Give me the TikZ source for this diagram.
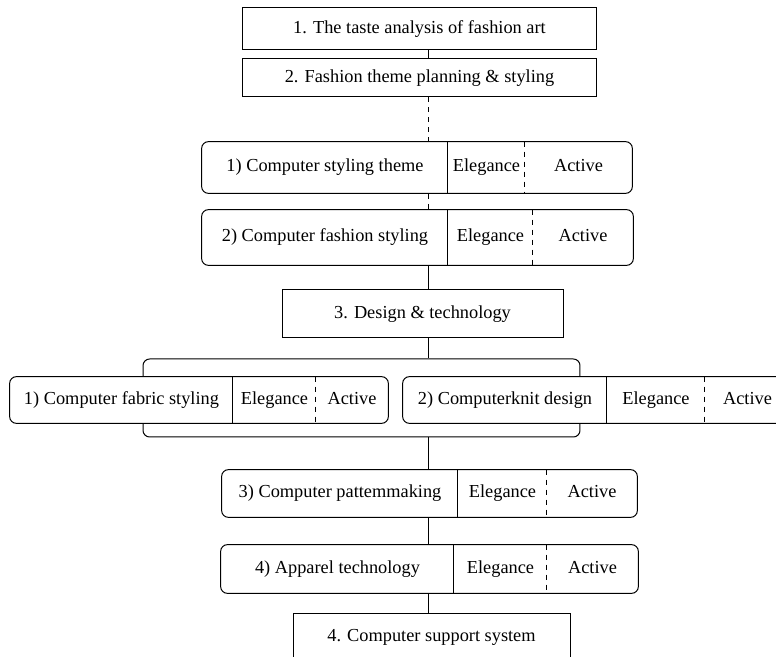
\documentclass[tikz,border=0pt]{standalone}
\usepackage{fontspec}
\setmainfont{Liberation Serif}
\usetikzlibrary{positioning, fit, calc}

\begin{document}
\begin{tikzpicture}[
      x=0.6pt, y=-0.6pt,
      every node/.style={font=\fontsize{11}{13}\selectfont, text height=7.6pt, text depth=2.4pt},
      stage/.style={draw, line width=0.6pt, inner sep=0pt, fill=white},
      seg/.style={inner sep=0pt, fill=white},
      rowbox/.style={draw, line width=0.6pt, rounded corners=4pt, inner sep=0pt},
      grpframe/.style={draw, line width=0.6pt, rounded corners=4pt, inner sep=0pt},
      link/.style={line width=0.6pt},
      divider/.style={line width=0.6pt},
    ]
    \useasboundingbox (0,0) rectangle (776,657);
    \clip (0,0) rectangle (776,657);
    \coordinate (spine) at (428,0);

    \node[stage, minimum width=213pt, minimum height=25.2pt] (t1) at (419.5,29)
      {1. The taste analysis of fashion art};
    \node[stage, minimum width=213pt, minimum height=22.8pt] (t2) at (419.5,78)
      {2. Fashion theme planning \& styling};

    \node[seg, minimum width=147.6pt, minimum height=30.6pt] (tA) at (325,167.5) {1) Computer styling theme};
    \node[seg, minimum width=46.2pt, minimum height=30.6pt]  (eA) at (486.5,167.5) {Elegance};
    \node[seg, minimum width=64.2pt, minimum height=30.6pt]  (aA) at (578.5,167.5) {Active};
    \node[rowbox, fit=(tA)(aA)] (rowA) {};

    \node[seg, minimum width=147.6pt, minimum height=33pt] (tB) at (325,237.5) {2) Computer fashion styling};
    \node[seg, minimum width=51pt, minimum height=33pt]    (eB) at (490.5,237.5) {Elegance};
    \node[seg, minimum width=60pt, minimum height=33pt]    (aB) at (583,237.5) {Active};
    \node[rowbox, fit=(tB)(aB)] (rowB) {};

    \node[stage, minimum width=168.6pt, minimum height=28.8pt] (t3) at (422.5,314)
      {3. Design \& technology};

    \node[grpframe, minimum width=262.2pt, minimum height=46.8pt] (grp) at (361.5,398) {};

    \node[seg, minimum width=133.8pt, minimum height=27.6pt] (tC) at (121.5,400) {1) Computer fabric styling};
    \node[seg, minimum width=49.8pt, minimum height=27.6pt]  (eC) at (274.5,400) {Elegance};
    \node[seg, minimum width=43.2pt, minimum height=27.6pt]  (aC) at (352,400) {Active};
    \node[rowbox, fit=(tC)(aC)] (rowC) {};

    \node[seg, minimum width=122.4pt, minimum height=27.6pt] (tD) at (505,400) {2) Computerknit design};
    \node[seg, minimum width=58.8pt, minimum height=27.6pt]  (eD) at (656,400) {Elegance};
    \node[seg, minimum width=51pt, minimum height=27.6pt]    (aD) at (747.5,400) {Active};
    \node[rowbox, fit=(tD)(aD)] (rowD) {};

    \node[seg, minimum width=141.6pt, minimum height=28.2pt] (tE) at (340,493.5) {3) Computer pattemmaking};
    \node[seg, minimum width=53.4pt, minimum height=28.2pt]  (eE) at (502.5,493.5) {Elegance};
    \node[seg, minimum width=54pt, minimum height=28.2pt]    (aE) at (592,493.5) {Active};
    \node[rowbox, fit=(tE)(aE)] (rowE) {};

    \node[seg, minimum width=139.8pt, minimum height=28.8pt] (tF) at (337.5,569) {4) Apparel technology};
    \node[seg, minimum width=55.8pt, minimum height=28.8pt]  (eF) at (500.5,569) {Elegance};
    \node[seg, minimum width=54.6pt, minimum height=28.8pt]  (aF) at (592.5,569) {Active};
    \node[rowbox, fit=(tF)(aF)] (rowF) {};

    \node[stage, minimum width=166.2pt, minimum height=28.8pt] (t4) at (431.5,637)
      {4. Computer support system};

    \foreach \r in {A,B,C,D,E,F} {
      \draw[divider] (e\r.north west) -- (e\r.south west);
      \draw[divider, dashed] (a\r.north west) -- (a\r.south west);
    }

    \draw[link] (t1.south -| spine) -- (t2.north -| spine);
    \draw[link, dashed] (t2.south -| spine) -- (rowA.north -| spine);
    \draw[link, dashed] (rowA.south -| spine) -- (rowB.north -| spine);
    \draw[link] (rowB.south -| spine) -- (t3.north -| spine);
    \draw[link] (t3.south -| spine) -- (grp.north -| spine);
    \draw[link] (grp.south -| spine) -- (rowE.north -| spine);
    \draw[link] (rowE.south -| spine) -- (rowF.north -| spine);
    \draw[link] (rowF.south -| spine) -- (t4.north -| spine);
  \end{tikzpicture}
\end{document}
